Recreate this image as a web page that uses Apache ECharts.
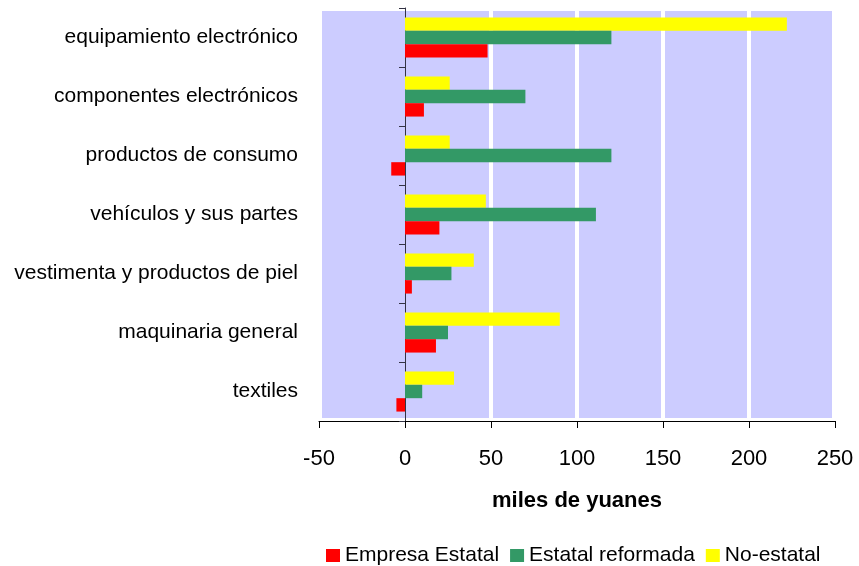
<!DOCTYPE html>
<html>
<head>
<meta charset="utf-8">
<script src="https://cdn.jsdelivr.net/npm/echarts@6/dist/echarts.min.js"></script>
<style>
  html, body { margin: 0; padding: 0; background: #fff; }
  #chart { width: 859px; height: 566px; }
</style>
</head>
<body>
<div id="chart"></div>
<script>
// Industry categories, listed from the bottom of the chart to the top
const categories = [
  'textiles',
  'maquinaria general',
  'vestimenta y productos de piel',
  'vehículos y sus partes',
  'productos de consumo',
  'componentes electrónicos',
  'equipamiento electrónico'
];

// Values in miles de yuanes, same order as categories
const empresaEstatal   = [-5, 18, 4, 20, -8, 11, 48];
const estatalReformada = [10, 25, 27, 111, 120, 70, 120];
const noEstatal        = [28.5, 90, 40, 47, 26, 26, 222];

const xTicks = { min: -50, max: 250, step: 50 };
const seriesNames = ['Empresa Estatal', 'Estatal reformada', 'No-estatal'];

const FONT = 'Arial, "Liberation Sans", sans-serif';

const chart = echarts.init(document.getElementById('chart'), null, { renderer: 'canvas' });

const barCommon = {
  type: 'bar',
  barGap: '0%',
  barCategoryGap: '32%',
  yAxisIndex: 0
};

chart.setOption({
  animation: false,
  backgroundColor: '#ffffff',
  grid: {
    left: 319,
    right: 24,
    top: 8,
    bottom: 145,
    show: true,
    backgroundColor: '#CCCCFF',
    borderColor: '#ffffff',
    borderWidth: 6
  },
  legend: {
    data: seriesNames,
    left: 321,
    top: 540,
    icon: 'rect',
    itemWidth: 14,
    itemHeight: 13,
    itemGap: 11,
    textStyle: { fontFamily: FONT, fontSize: 21, color: '#000' }
  },
  xAxis: {
    type: 'value',
    min: xTicks.min,
    max: xTicks.max,
    interval: xTicks.step,
    name: 'miles de yuanes',
    nameLocation: 'middle',
    nameGap: 69,
    nameTextStyle: { fontFamily: FONT, fontSize: 22, fontWeight: 'bold', color: '#000' },
    axisLine: { show: true, lineStyle: { color: '#000', width: 1 } },
    axisTick: { show: true, length: 7, lineStyle: { color: '#000' } },
    axisLabel: { fontFamily: FONT, fontSize: 22, color: '#000', margin: 27 },
    splitLine: {
      show: true,
      showMinLine: false,
      showMaxLine: false,
      lineStyle: {
        color: ['rgba(0,0,0,0)', '#ffffff', '#ffffff', '#ffffff', '#ffffff'],
        width: 4
      }
    }
  },
  yAxis: [
    {
      type: 'category',
      data: categories,
      position: 'left',
      axisLine: { show: false, onZero: false },
      axisTick: { show: false },
      axisLabel: { fontFamily: FONT, fontSize: 21, color: '#000', margin: 21 },
      splitLine: { show: false }
    },
    {
      type: 'category',
      data: categories,
      position: 'left',
      axisLine: { show: true, onZero: true, lineStyle: { color: '#333344', width: 1 } },
      axisTick: { show: true, length: 6, lineStyle: { color: '#333344' } },
      axisLabel: { show: false },
      splitLine: { show: false }
    }
  ],
  series: [
    Object.assign({ name: seriesNames[2], data: noEstatal, itemStyle: { color: '#FFFF00' } }, barCommon),
    Object.assign({ name: seriesNames[1], data: estatalReformada, itemStyle: { color: '#339966' } }, barCommon),
    Object.assign({ name: seriesNames[0], data: empresaEstatal, itemStyle: { color: '#FF0000' } }, barCommon)
  ]
});
</script>
</body>
</html>
